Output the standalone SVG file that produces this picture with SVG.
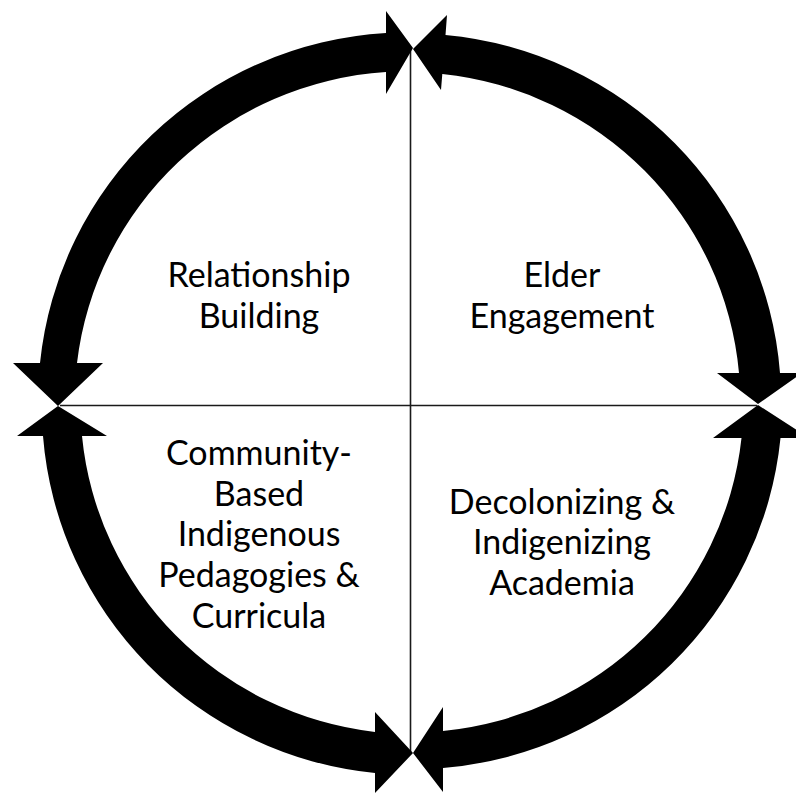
<svg xmlns="http://www.w3.org/2000/svg" width="796" height="793" viewBox="0 0 796 793">
  <style>
    .axis { stroke: #1a1a1a; stroke-width: 1.6; fill: none; }
    .arc-arrow { fill: #000; stroke: none; }
    .label { font-family: Lato, "Open Sans", "Liberation Sans", sans-serif; font-size: 34px; fill: #000; text-anchor: middle; }
  </style>
  <rect width="796" height="793" fill="#fff"/>

  <!-- cycle connectors: quadrant axes and the four double-headed arc arrows -->
  <g id="connectors">
    <line class="axis" x1="410.5" y1="50" x2="410.5" y2="753"/>
    <line class="axis" x1="60" y1="405.5" x2="757" y2="405.5"/>

    <!-- top-left arc: top ↔ left -->
    <path id="arc-top-left" class="arc-arrow" d="M413,48 L386,11 L386,33 A370,368 0 0 0 40,363 L13,363 L58,406 L103,363 L77,363 A333,330 0 0 1 386,72 L386,94 Z"/>
    <!-- top-right arc: top ↔ right -->
    <path id="arc-top-right" class="arc-arrow" d="M413,49 L447,15 L445.5,35 A370,368 0 0 1 780,373 L802,373 L758,404 L717,373 L739,373 A333,330 0 0 0 442.3,74 L441,90 Z"/>
    <!-- bottom-right arc: right ↔ bottom -->
    <path id="arc-bottom-right" class="arc-arrow" d="M758,405 L809,438 L780.5,438 A370,368 0 0 1 443,768 L443,792 L413,753 L443,707 L443,731 A333,330 0 0 0 741.5,438 L713,438 Z"/>
    <!-- bottom-left arc: left ↔ bottom -->
    <path id="arc-bottom-left" class="arc-arrow" d="M58,406 L107,436 L82,436 A333,330 0 0 0 375,732 L375,712 L413,753 L375,793 L375,773 A370,368 0 0 1 43,436 L17,436 Z"/>
  </g>

  <g id="relationship-building">
    <text class="label" x="259" y="287">Relationship</text>
    <text class="label" x="259" y="327.5">Building</text>
  </g>

  <g id="elder-engagement">
    <text class="label" x="562" y="287">Elder</text>
    <text class="label" x="562" y="327.5">Engagement</text>
  </g>

  <g id="community-based-pedagogies">
    <text class="label" x="259" y="465">Community-</text>
    <text class="label" x="259" y="505.7">Based</text>
    <text class="label" x="259" y="546.4">Indigenous</text>
    <text class="label" x="259" y="587.1">Pedagogies &amp;</text>
    <text class="label" x="259" y="627.8">Curricula</text>
  </g>

  <g id="decolonizing-indigenizing">
    <text class="label" x="562" y="513.5">Decolonizing &amp;</text>
    <text class="label" x="562" y="554.2">Indigenizing</text>
    <text class="label" x="562" y="594.9">Academia</text>
  </g>
</svg>
